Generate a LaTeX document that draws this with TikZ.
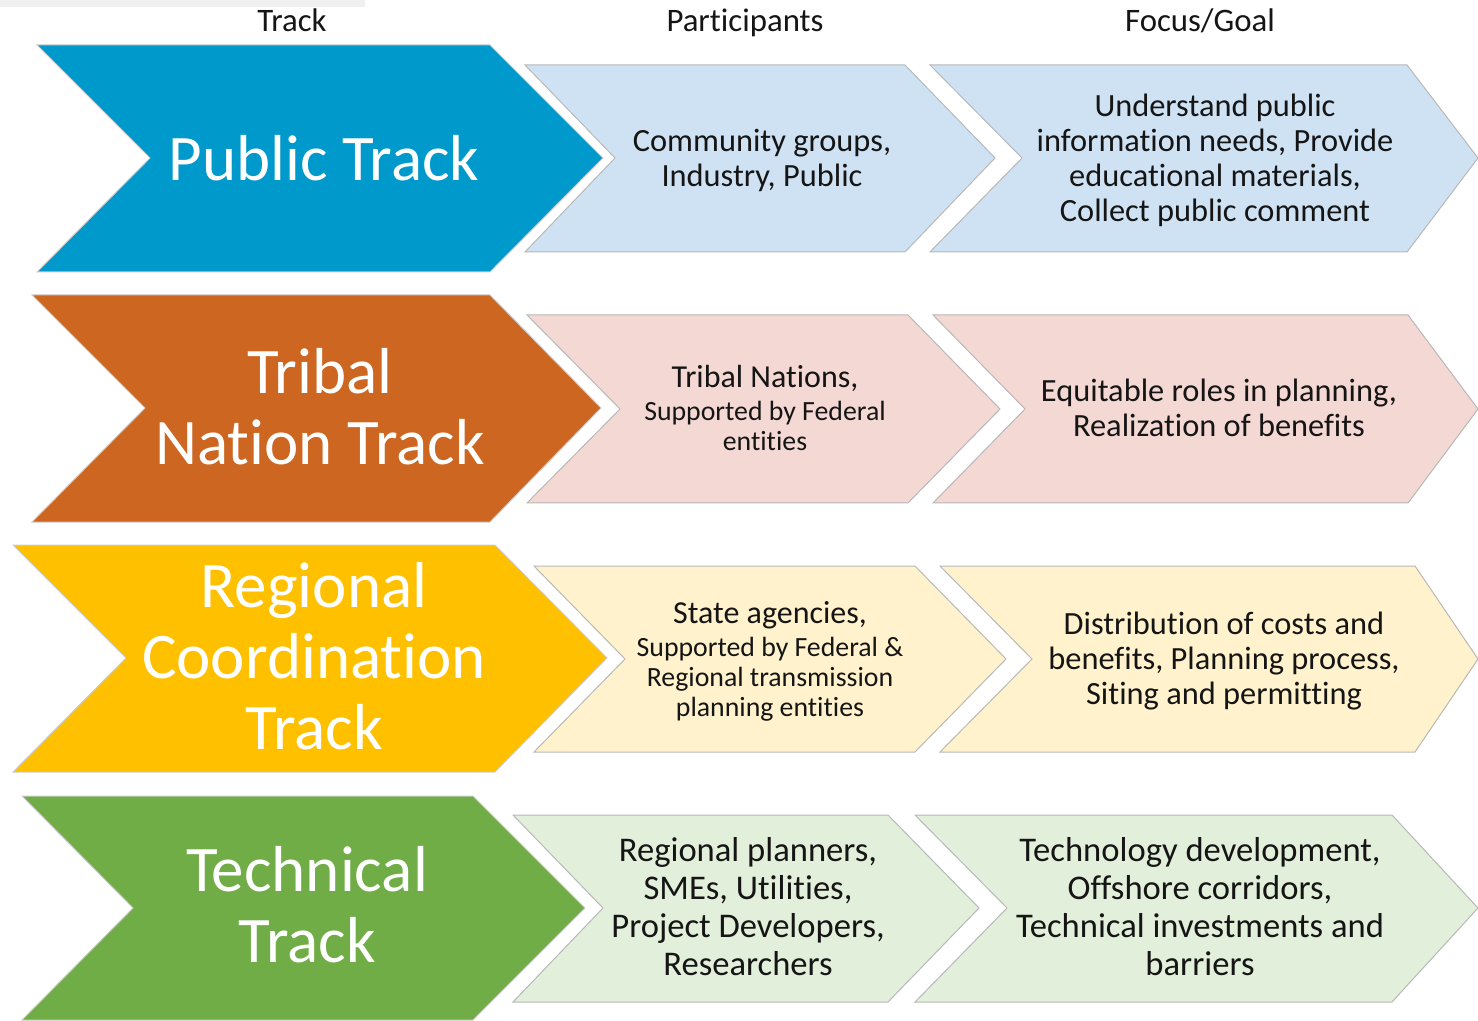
\documentclass[tikz,border=0pt]{standalone}
\usepackage{fontspec}
\setmainfont{Carlito}[Ligatures=NoCommon]
\definecolor{pubblue}{HTML}{0099CC}
\definecolor{tribrust}{HTML}{CD6620}
\definecolor{reggold}{HTML}{FFC000}
\definecolor{techgreen}{HTML}{70AD47}
\definecolor{publight}{HTML}{CFE2F3}
\definecolor{triblight}{HTML}{F4D8D3}
\definecolor{reglight}{HTML}{FFF2CC}
\definecolor{techlight}{HTML}{E2EFDA}
\definecolor{barclr}{HTML}{F0F0F0}
\definecolor{inkclr}{HTML}{151515}

\begin{document}
\begin{tikzpicture}[x=0.5pt,y=-0.5pt,
  bigchev/.style={draw=black!20, line width=0.5pt},
  lightchev/.style={draw=black!28, line width=0.5pt},
  headtxt/.style={anchor=base, text=inkclr, font=\fontsize{16.4}{18}\selectfont},
  bigtxt/.style={text=white, align=center, inner sep=0pt, font=\fontsize{32.5}{35.5}\selectfont},
  parttxt/.style={text=inkclr, align=center, inner sep=0pt, font=\fontsize{16.2}{17.5}\selectfont},
  smalltxt/.style={text=inkclr, align=center, inner sep=0pt, font=\fontsize{13.9}{15}\selectfont},
  techtxt/.style={text=inkclr, align=center, inner sep=0pt, font=\fontsize{17.3}{19}\selectfont}]
\clip (0,0) rectangle (1478,1021);
\fill[barclr] (0,0) rectangle (365,7);

\node[headtxt] (hdtrack) at (292,32) {Track};
\node[headtxt] (hdpart) at (745,32) {Participants};
\node[headtxt] (hdgoal) at (1200,32) {Focus/Goal};

\filldraw[bigchev, fill=pubblue] (37,45) -- (490,45) -- (603,158) -- (490,272) -- (37,272) -- (150,158) -- cycle;
\filldraw[lightchev, fill=publight] (525,65) -- (905,65) -- (995,158) -- (905,252) -- (525,252) -- (615,158) -- cycle;
\filldraw[lightchev, fill=publight] (930,65) -- (1407,65) -- (1478,158) -- (1407,252) -- (930,252) -- (1022,158) -- cycle;
\node[bigtxt] (pubtrack) at (324,158) {Public Track};
\node[parttxt] (pubpart) at (762,160) {Community groups,\\Industry, Public};
\node[parttxt] (pubgoal) at (1215,160) {Understand public\\information needs, Provide\\educational materials,\\Collect public comment};

\filldraw[bigchev, fill=tribrust] (32,295) -- (490,295) -- (601,408) -- (490,522) -- (32,522) -- (145,408) -- cycle;
\filldraw[lightchev, fill=triblight] (527,315) -- (908,315) -- (1000,409) -- (908,503) -- (527,503) -- (620,409) -- cycle;
\filldraw[lightchev, fill=triblight] (933,315) -- (1408,315) -- (1478,409) -- (1408,503) -- (933,503) -- (1025,409) -- cycle;
\node[bigtxt] (tribtrack) at (320,407) {Tribal\\Nation Track};
\node[smalltxt] (tribpart) at (765,407.5) {{\fontsize{16}{17.5}\selectfont Tribal Nations,}\\[1.5pt]Supported by Federal\\entities};
\node[parttxt] (tribgoal) at (1219,408) {Equitable roles in planning,\\Realization of benefits};

\filldraw[bigchev, fill=reggold] (13,545) -- (495,545) -- (607,658) -- (495,772) -- (13,772) -- (126,658) -- cycle;
\filldraw[lightchev, fill=reglight] (534,566) -- (915,566) -- (1006,659) -- (915,752) -- (534,752) -- (625,659) -- cycle;
\filldraw[lightchev, fill=reglight] (940,566) -- (1415,566) -- (1478,659) -- (1415,752) -- (940,752) -- (1032,659) -- cycle;
\node[bigtxt] (regtrack) at (314,656) {Regional\\Coordination\\Track};
\node[smalltxt] (regpart) at (770,661) {{\fontsize{16}{17.5}\selectfont State agencies,}\\[1.5pt]Supported by Federal \&\\Regional transmission\\planning entities};
\node[parttxt] (reggoal) at (1224,661) {Distribution of costs and\\benefits, Planning process,\\Siting and permitting};

\filldraw[bigchev, fill=techgreen] (22,796) -- (473,796) -- (585,908) -- (473,1020) -- (22,1020) -- (133,908) -- cycle;
\filldraw[lightchev, fill=techlight] (513,815) -- (888,815) -- (979,908) -- (888,1002) -- (513,1002) -- (603,908) -- cycle;
\filldraw[lightchev, fill=techlight] (915,815) -- (1392,815) -- (1478,908) -- (1392,1002) -- (915,1002) -- (1007,908) -- cycle;
\node[bigtxt] (techtrack) at (307,905) {Technical\\Track};
\node[techtxt] (techpart) at (748,907) {Regional planners,\\SMEs, Utilities,\\Project Developers,\\Researchers};
\node[techtxt] (techgoal) at (1200,907) {Technology development,\\Offshore corridors,\\Technical investments and\\barriers};
\end{tikzpicture}
\end{document}
